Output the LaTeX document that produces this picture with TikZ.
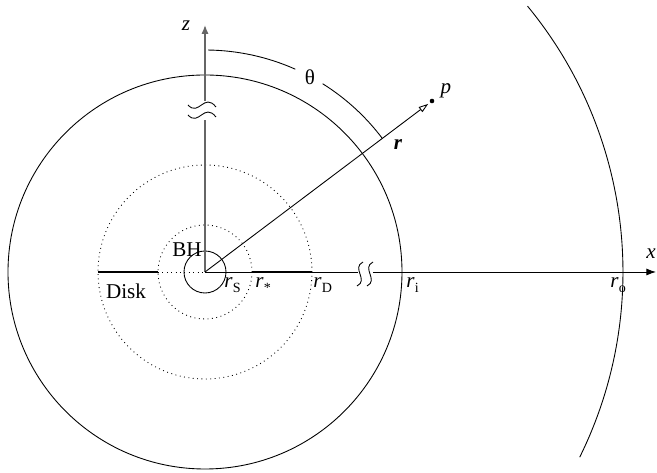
\documentclass[tikz,border=0pt]{standalone}
\usepackage{fontspec}
\setmainfont{Liberation Serif}
\usetikzlibrary{arrows.meta}
\newcommand{\rsub}[1]{\textit{r}\kern0.2pt\raisebox{-0.45ex}{\fontsize{8}{9}\selectfont #1}}
\begin{document}
\begin{tikzpicture}[x=0.02cm,y=0.02cm,
  thinl/.style={line width=0.5pt},
  dotl/.style={line width=0.5pt,dotted},
  thickl/.style={line width=1.3pt},
  zax/.style={line width=0.8pt,black!60},
  lbl/.style={font=\fontsize{12}{14}\selectfont,inner sep=0pt},
  dotnode/.style={circle,fill=black,inner sep=0pt,minimum size=2.6pt}]
\useasboundingbox (-205,-201) rectangle (452,272);
\coordinate (O) at (0,0);
% circles
\draw[thinl] (O) circle (197);
\draw[thinl] (39.5:418) arc (39.5:-26.3:418);
\draw[dotl] (O) circle (47);
\draw[dotl] (O) circle (107);
\draw[thinl] (O) circle (21);
% disk
\coordinate (Dl) at (-107,0);
\coordinate (Sl) at (-47,0);
\coordinate (Sr) at (47,0);
\coordinate (Dr) at (107,0);
\draw[dotl] (Sl) -- (O);
\draw[thickl] (Dl) -- (Sl);
\draw[thickl] (Sr) -- (Dr);
% x axis
\coordinate (xb1) at (153,0);
\coordinate (xb2) at (168,0);
\coordinate (xe) at (451,0);
\draw[thinl] (O) -- (xb1);
\draw[thinl,-{Latex[length=5.5pt,width=4pt]}] (xb2) -- (xe);
\foreach \xx in {155,165}{
  \draw[thinl] (\xx+3,10) .. controls (\xx-9,4) and (\xx+9,-8) .. (\xx-3,-14);
}
% z axis
\coordinate (zb1) at (0,152);
\coordinate (zb2) at (0,171);
\coordinate (ze) at (0,247);
\draw[zax] (O) -- (zb1);
\draw[zax,-{Latex[length=5pt,width=4pt]}] (zb2) -- (ze);
\foreach \yy in {157,167}{
  \draw[thinl] (-17,\yy) .. controls (-6,\yy-12) and (-1,\yy+13) .. (11,\yy-2);
}
% theta arc
\draw[thinl] (89.2:222) arc (89.2:66:222);
\draw[thinl] (58:222) arc (58:37:222);
\node[lbl] (theta) at (105,195) {θ};
% r vector
\node[dotnode] (p) at (227,171) {};
\draw[thinl,-{Triangle[open,length=5.5pt,width=3.5pt]},shorten >=1.2pt] (O) -- (p);
\node[lbl] (plab) at (241,181) {\textit{p}};
\node[lbl] (rlab) at (193,127) {\textbf{\textit{r}}};
% labels
\node[lbl] (zlab) at (-19,246) {\textit{z}};
\node[lbl] (xlab) at (446,18) {\textit{x}};
\node[lbl] (BH) at (-18,22) {BH};
\node[lbl] (Disk) at (-79,-19) {Disk};
\node[lbl,anchor=west] (rS) at (19,-13) {\rsub{S}};
\node[lbl,anchor=west] (rst) at (50,-13) {\rsub{*}};
\node[lbl,anchor=west] (rD) at (108,-13) {\rsub{D}};
\node[lbl,anchor=west] (ri) at (201,-13) {\rsub{i}};
\node[lbl,anchor=west] (ro) at (405,-13) {\rsub{o}};
\end{tikzpicture}
\end{document}
